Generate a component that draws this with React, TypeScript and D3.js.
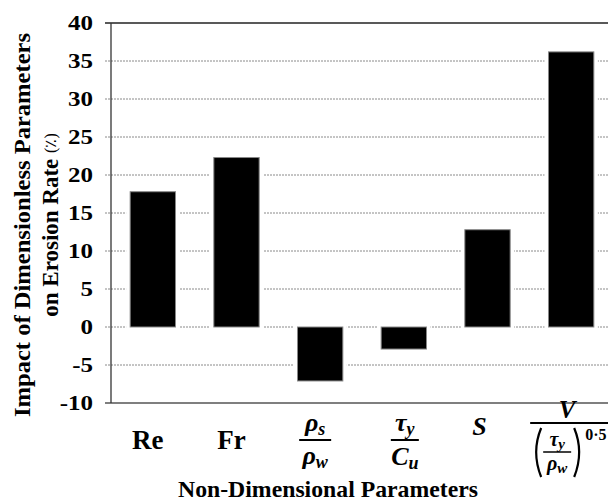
import React from 'react'
import * as d3 from 'd3'

const categories = ['Re', 'Fr', 'rho', 'tau', 'S', 'V']
const values = [17.8, 22.3, -7.1, -2.9, 12.8, 36.2]
const yTicks = [40, 35, 30, 25, 20, 15, 10, 5, 0, -5, -10]

const W = 608
const H = 501
const margin = { top: 23, right: -5, bottom: 98, left: 111 }

const serif = "'Liberation Serif', 'DejaVu Serif', serif"

function App() {
  const x = d3
    .scaleBand()
    .domain(categories)
    .range([margin.left, W - margin.right])
    .paddingInner(0.458)
    .paddingOuter(0.229)
  const y = d3
    .scaleLinear()
    .domain([-10, 40])
    .range([H - margin.bottom, margin.top])

  const bw = x.bandwidth()
  const cx = (k: string) => (x(k) as number) + bw / 2 - 5

  const bold = { fontFamily: serif, fontWeight: 700 }
  const mathFont = { fontFamily: serif, fontWeight: 700, fontStyle: 'italic' as const }

  // labels under the axis, some are little fractions
  const renderLabel = (k: string) => {
    const c = cx(k)
    if (k === 'Re' || k === 'Fr') {
      return (
        <text x={c} y={449} textAnchor="middle" style={bold} fontSize={27}>
          {k}
        </text>
      )
    }
    if (k === 'S') {
      return (
        <text x={c - 3} y={435} textAnchor="middle" style={mathFont} fontSize={26}>
          S
        </text>
      )
    }
    if (k === 'rho') {
      return (
        <g>
          <text x={c} y={431} textAnchor="middle" style={mathFont} fontSize={26}>
            ρ<tspan fontSize={18} dy={4}>s</tspan>
          </text>
          <line x1={c - 16} x2={c + 16} y1={440} y2={440} stroke="#000" strokeWidth={2} />
          <text x={c} y={464} textAnchor="middle" style={mathFont} fontSize={26}>
            ρ<tspan fontSize={18} dy={4}>w</tspan>
          </text>
        </g>
      )
    }
    if (k === 'tau') {
      return (
        <g>
          <text x={c + 6} y={431} textAnchor="middle" style={mathFont} fontSize={26}>
            τ<tspan fontSize={18} dy={4}>y</tspan>
          </text>
          <line x1={c - 8} x2={c + 20} y1={440} y2={440} stroke="#000" strokeWidth={2} />
          <text x={c + 6} y={465} textAnchor="middle" style={mathFont} fontSize={26}>
            C<tspan fontSize={18} dy={4}>u</tspan>
          </text>
        </g>
      )
    }
    // V / (tau_y / rho_w)^0.5
    const pl = c - 29
    const pr = c + 12
    return (
      <g>
        <text x={c + 1} y={418} textAnchor="middle" style={mathFont} fontSize={25}>
          V
        </text>
        <line x1={c - 36} x2={c + 60} y1={423} y2={423} stroke="#000" strokeWidth={2} />
        <path
          d={`M${pl + 4},428 Q${pl - 6},452 ${pl + 4},477`}
          fill="none"
          stroke="#000"
          strokeWidth={2.2}
        />
        <path
          d={`M${pr - 4},428 Q${pr + 6},452 ${pr - 4},477`}
          fill="none"
          stroke="#000"
          strokeWidth={2.2}
        />
        <text x={c - 9} y={446} textAnchor="middle" style={mathFont} fontSize={20}>
          τ<tspan fontSize={15} dy={3}>y</tspan>
        </text>
        <line x1={c - 23} x2={c + 5} y1={452} y2={452} stroke="#000" strokeWidth={1.5} />
        <text x={c - 9} y={470} textAnchor="middle" style={mathFont} fontSize={20}>
          ρ<tspan fontSize={15} dy={3}>w</tspan>
        </text>
        <text x={c + 19} y={440} style={bold} fontSize={16}>
          0·5
        </text>
      </g>
    )
  }

  return (
    <svg
      width={W}
      height={H}
      style={{ position: 'absolute', left: 0, top: 0, background: '#fff' }}
    >
      {/* grid */}
      {yTicks.map((t) => {
        const yy = y(t)
        if (t === 40 || t === -10) return null
        return (
          <line
            key={'g' + t}
            x1={margin.left - 6}
            x2={W}
            y1={yy}
            y2={yy}
            stroke="#8a8a8a"
            strokeWidth={1}
            strokeDasharray="2,1"
          />
        )
      })}
      <line x1={margin.left - 6} x2={W} y1={y(40)} y2={y(40)} stroke="#222" strokeWidth={1.3} />
      <line x1={margin.left - 6} x2={W} y1={y(-10)} y2={y(-10)} stroke="#555" strokeWidth={1.6} />
      <line x1={margin.left} x2={margin.left} y1={y(40)} y2={y(-10)} stroke="#333" strokeWidth={1.3} />

      {/* bars */}
      {categories.map((k, i) => {
        const v = values[i]
        const y0 = y(Math.max(0, v))
        const h = Math.abs(y(v) - y(0))
        return (
          <g key={k}>
            <rect x={(x(k) as number) - 4} y={y0 - 1} width={bw + 8} height={h + 2} fill="#fff" />
            <rect x={x(k)} y={y0} width={bw} height={h} fill="#000" stroke="#888" strokeWidth={1} />
          </g>
        )
      })}

      {/* y tick labels */}
      {yTicks.map((t) => (
        <text
          key={'t' + t}
          transform={`translate(93,${y(t)}) scale(1.25,1)`}
          textAnchor="end"
          dominantBaseline="central"
          style={bold}
          fontSize={20}
        >
          {t}
        </text>
      ))}

      {/* y title */}
      <text
        transform="translate(22,225) rotate(-90)"
        textAnchor="middle"
        dominantBaseline="central"
        style={bold}
        fontSize={23}
        textLength={384}
        lengthAdjust="spacingAndGlyphs"
      >
        Impact of Dimensionless Parameters
      </text>
      <text
        transform="translate(50,225) rotate(-90)"
        textAnchor="middle"
        dominantBaseline="central"
        style={bold}
        fontSize={23}
      >
        on Erosion Rate <tspan fontWeight={400} fontSize={16}>(٪)</tspan>
      </text>

      {categories.map((k) => (
        <g key={'l' + k}>{renderLabel(k)}</g>
      ))}

      <text
        x={328}
        y={497}
        textAnchor="middle"
        style={bold}
        fontSize={23}
        textLength={300}
        lengthAdjust="spacingAndGlyphs"
      >
        Non-Dimensional Parameters
      </text>
    </svg>
  )
}

export default App
